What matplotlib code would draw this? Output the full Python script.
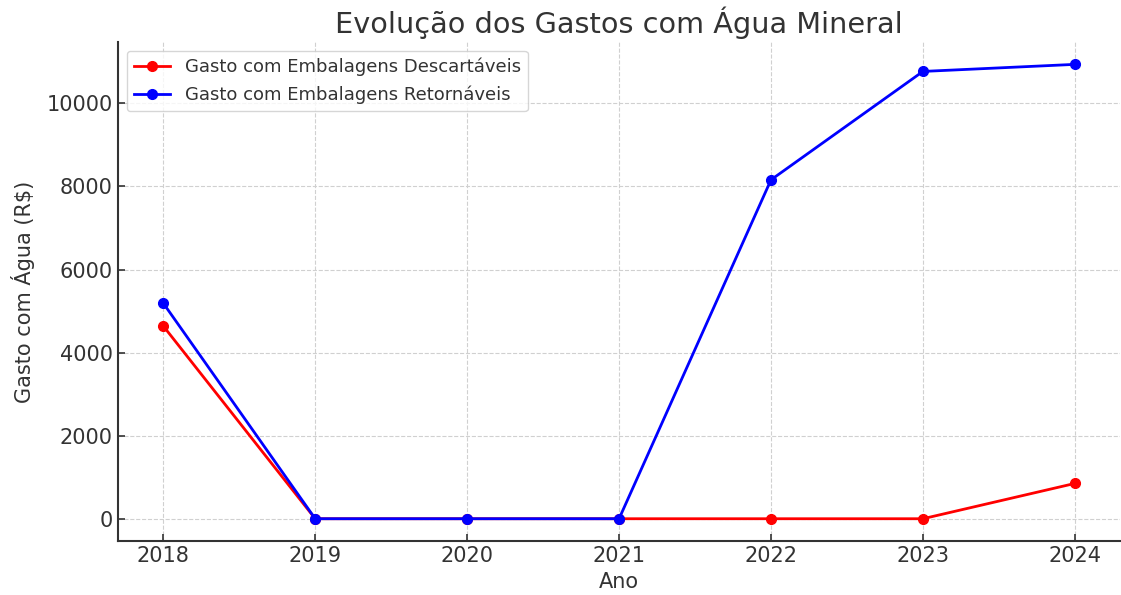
import matplotlib.pyplot as plt

# Dados
anos = [2018, 2019, 2020, 2021, 2022, 2023, 2024]
descartaveis = [4640, 0, 0, 0, 0, 0, 850]
retornaveis = [5190, 0, 0, 0, 8160, 10770, 10940]

plt.rcParams["text.color"] = "#333333"
plt.rcParams["axes.labelcolor"] = "#333333"
plt.rcParams["xtick.color"] = "#333333"
plt.rcParams["ytick.color"] = "#333333"

fig, ax = plt.subplots(figsize=(11.21, 5.95), dpi=100)
fig.subplots_adjust(left=0.105, right=0.9995, top=0.93, bottom=0.09)

ax.plot(anos, descartaveis, marker="o", color="red", linewidth=2, markersize=7,
        label="Gasto com Embalagens Descartáveis")
ax.plot(anos, retornaveis, marker="o", color="blue", linewidth=2, markersize=7,
        label="Gasto com Embalagens Retornáveis")

ax.set_title("Evolução dos Gastos com Água Mineral", fontsize=20.7)
ax.set_xlabel("Ano", fontsize=15, labelpad=4)
ax.set_ylabel("Gasto com Água (R$)", fontsize=15, labelpad=8)
ax.tick_params(direction="in", labelsize=15, length=5, width=1.2)
ax.set_xticks(anos)
ax.grid(True, linestyle="--", color="#d0d0d0", linewidth=0.8)

for s in ["top", "right"]:
    ax.spines[s].set_visible(False)
for s in ["left", "bottom"]:
    ax.spines[s].set_color("#333333")
    ax.spines[s].set_linewidth(1.5)

ax.legend(loc="upper left", fontsize=13, framealpha=0.8, edgecolor="#cccccc")

plt.savefig("out.png", dpi=100)
